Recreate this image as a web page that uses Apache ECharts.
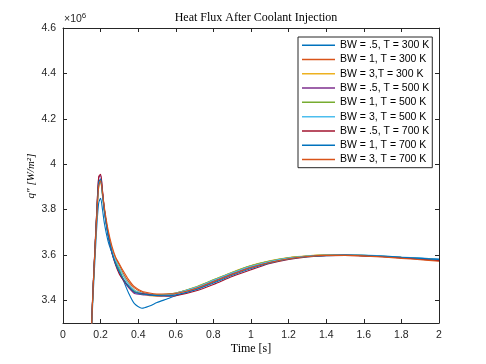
<!DOCTYPE html>
<html><head><meta charset="utf-8">
<script src="https://cdn.jsdelivr.net/npm/echarts@6/dist/echarts.min.js"></script>
<style>html,body{margin:0;padding:0;background:#fff}#c{width:486px;height:364px}</style>
</head><body><div id="c"></div>
<script>
const time = [0.145,0.16,0.17,0.18,0.19,0.2,0.21,0.22,0.24,0.26,0.28,0.3,0.32,0.35,0.38,0.42,0.46,0.5,0.55,0.6,0.7,0.8,0.9,1.0,1.1,1.2,1.3,1.4,1.5,1.6,1.7,1.8,1.9,2.0];
const seriesNames = ['BW = .5, T = 300 K','BW = 1, T = 300 K','BW = 3,T = 300 K','BW = .5, T = 500 K','BW = 1, T = 500 K','BW = 3, T = 500 K','BW = .5, T = 700 K','BW = 1, T = 700 K','BW = 3, T = 700 K'];
const bw05_300 = [3.15,3.42,3.58,3.73,3.83,3.85,3.80,3.74,3.66,3.61,3.57,3.535,3.49,3.43,3.385,3.365,3.375,3.39,3.405,3.42,3.445,3.48,3.515,3.545,3.568,3.584,3.594,3.598,3.598,3.597,3.594,3.59,3.586,3.582];
const bw1_300 = [3.15,3.45,3.62,3.78,3.91,3.925,3.87,3.80,3.70,3.63,3.585,3.555,3.52,3.48,3.455,3.435,3.428,3.425,3.427,3.432,3.455,3.488,3.522,3.552,3.572,3.587,3.595,3.599,3.599,3.597,3.593,3.588,3.583,3.577];
const bw3_300 = [3.15,3.45,3.62,3.78,3.9,3.92,3.86,3.79,3.69,3.62,3.575,3.545,3.51,3.47,3.445,3.43,3.42,3.418,3.422,3.43,3.457,3.49,3.524,3.553,3.574,3.588,3.596,3.6,3.6,3.598,3.594,3.589,3.584,3.578];
const bw05_500 = [3.15,3.46,3.63,3.8,3.94,3.95,3.88,3.8,3.69,3.61,3.56,3.52,3.49,3.455,3.43,3.425,3.423,3.42,3.423,3.43,3.452,3.485,3.518,3.548,3.57,3.585,3.594,3.598,3.599,3.597,3.593,3.588,3.583,3.578];
const bw1_500 = [3.15,3.45,3.62,3.79,3.92,3.93,3.87,3.80,3.69,3.615,3.565,3.53,3.495,3.46,3.44,3.428,3.425,3.423,3.426,3.432,3.456,3.49,3.523,3.552,3.573,3.587,3.595,3.599,3.599,3.597,3.593,3.588,3.583,3.578];
const bw3_500 = [3.15,3.45,3.62,3.78,3.9,3.92,3.86,3.79,3.69,3.62,3.575,3.545,3.51,3.47,3.445,3.432,3.425,3.422,3.424,3.431,3.455,3.488,3.521,3.55,3.571,3.586,3.595,3.599,3.6,3.599,3.595,3.59,3.585,3.58];
const bw05_700 = [3.15,3.46,3.63,3.8,3.945,3.955,3.885,3.8,3.69,3.61,3.555,3.515,3.49,3.46,3.435,3.43,3.425,3.42,3.418,3.42,3.44,3.47,3.505,3.535,3.562,3.58,3.591,3.597,3.598,3.596,3.592,3.587,3.581,3.575];
const bw1_700 = [3.15,3.45,3.62,3.79,3.92,3.935,3.87,3.795,3.685,3.61,3.56,3.525,3.495,3.46,3.437,3.428,3.424,3.421,3.42,3.424,3.445,3.476,3.51,3.54,3.565,3.582,3.592,3.597,3.599,3.598,3.595,3.59,3.585,3.58];
const bw3_700 = [3.15,3.45,3.62,3.78,3.905,3.925,3.875,3.81,3.71,3.64,3.59,3.56,3.53,3.49,3.46,3.44,3.432,3.428,3.428,3.43,3.45,3.482,3.515,3.545,3.567,3.583,3.593,3.598,3.598,3.596,3.591,3.585,3.579,3.572];
const allValues = [bw05_300,bw1_300,bw3_300,bw05_500,bw1_500,bw3_500,bw05_700,bw1_700,bw3_700];
const colors = ['#0072BD','#D95319','#EDB120','#7E2F8E','#77AC30','#4DBEEE','#A2142F','#0072BD','#D95319'];
const xRange = [0, 2], xStep = 0.2;
const yRange = [3.3, 4.6];
const yTickRange = [3.4, 4.6], yStep = 0.2;

const axisColor = '#262626';
const chart = echarts.init(document.getElementById('c'), null, {renderer:'canvas'});
const fmt = v => String(Math.round(v*10)/10);
const tick = {show:true, inside:true, length:4, lineStyle:{color:axisColor, width:1}};
const line = {show:true, onZero:false, lineStyle:{color:axisColor, width:1}};
const gridTop = 28, gridBottom = 41, gridH = 364 - gridTop - gridBottom;
const pxPerUnit = gridH / (yRange[1] - yRange[0]);
const tickGridBottom = gridBottom + (yTickRange[0] - yRange[0]) * pxPerUnit;
chart.setOption({
  animation:false,
  color: colors,
  grid:[
    {left:63, right:47, top:gridTop, bottom:gridBottom, containLabel:false},
    {left:63, right:47, top:gridTop, bottom:tickGridBottom, containLabel:false}
  ],
  title:{text:'Heat Flux After Coolant Injection', left:251, top:7, textAlign:'center',
    textStyle:{fontFamily:'Liberation Serif', fontWeight:'normal', fontSize:12, color:'#000'}},
  legend:{orient:'vertical', left:298, top:37, padding:[1,3,1,4], itemGap:0,
    itemWidth:33, itemHeight:1.5, icon:'rect',
    borderColor:axisColor, borderWidth:1, backgroundColor:'#fff',
    textStyle:{fontFamily:'Liberation Sans', fontSize:10.5, color:'#000', lineHeight:14.3},
    data: seriesNames},
  xAxis:[
    {gridIndex:0, type:'value', min:xRange[0], max:xRange[1], interval:xStep, position:'bottom', splitLine:{show:false},
      axisLine:line, axisTick:tick,
      axisLabel:{color:axisColor, fontFamily:'Liberation Sans', fontSize:10.5, margin:7, formatter:fmt}},
    {gridIndex:0, type:'value', min:xRange[0], max:xRange[1], interval:xStep, position:'top', splitLine:{show:false},
      axisLine:line, axisTick:tick, axisLabel:{show:false}},
    {gridIndex:1, type:'value', min:xRange[0], max:xRange[1], show:false}
  ],
  yAxis:[
    {gridIndex:0, type:'value', min:yRange[0], max:yRange[1], position:'left', splitLine:{show:false},
      axisLine:line, axisTick:{show:false}, axisLabel:{show:false}},
    {gridIndex:0, type:'value', min:yRange[0], max:yRange[1], position:'right', splitLine:{show:false},
      axisLine:line, axisTick:{show:false}, axisLabel:{show:false}},
    {gridIndex:1, type:'value', min:yTickRange[0], max:yTickRange[1], interval:yStep, position:'left', splitLine:{show:false},
      axisLine:{show:false}, axisTick:tick,
      axisLabel:{color:axisColor, fontFamily:'Liberation Sans', fontSize:10.5, margin:7, formatter:fmt}},
    {gridIndex:1, type:'value', min:yTickRange[0], max:yTickRange[1], interval:yStep, position:'right', splitLine:{show:false},
      axisLine:{show:false}, axisTick:tick, axisLabel:{show:false}}
  ],
  series: allValues.map((vals,i)=>({
    name: seriesNames[i], type:'line', xAxisIndex:0, yAxisIndex:0,
    showSymbol:false, symbol:'none', smooth:0.25, clip:true,
    lineStyle:{width:1.1, color:colors[i]}, itemStyle:{color:colors[i]},
    data: time.map((t,j)=>[t, vals[j]])
  })),
  graphic:[
    {type:'text', left:64, top:12, style:{text:'{a|×10}{b|6}', rich:{a:{fontFamily:'Liberation Sans', fontSize:10.5, fill:axisColor},b:{fontFamily:'Liberation Sans', fontSize:8, fill:axisColor, verticalAlign:'top', padding:[0,0,6,0]}}}},
    {type:'text', x:251, y:343, style:{text:'Time [s]', textAlign:'center', fontFamily:'Liberation Serif', fontSize:12, fill:'#000'}},
    {type:'text', x:31, y:176, rotation:Math.PI/2, style:{text:'q″ [W/m²]', textAlign:'center', textVerticalAlign:'middle', fontFamily:'Liberation Serif', fontStyle:'italic', fontSize:11, fill:'#000'}}
  ]
});
</script></body></html>
